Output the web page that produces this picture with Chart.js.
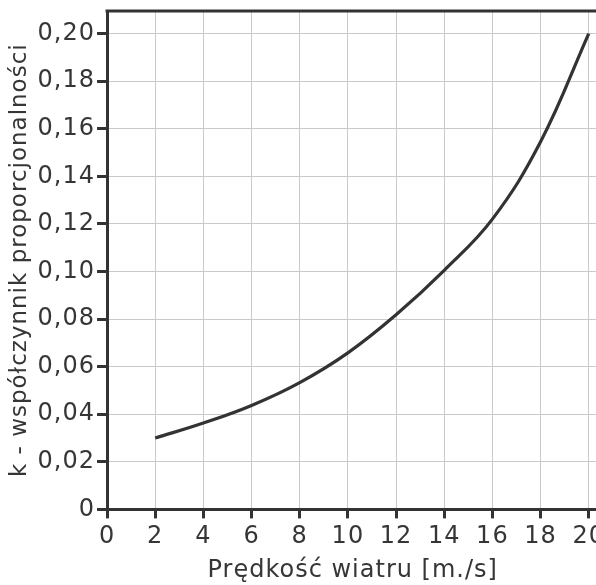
<!DOCTYPE html>
<html>
<head>
<meta charset="utf-8">
<script src="https://cdn.jsdelivr.net/npm/chart.js@4"></script>
<style>
  html, body { margin: 0; padding: 0; background: #fff; overflow: hidden; }
  #wrap { width: 596px; height: 585px; overflow: hidden; }
</style>
</head>
<body>
<div id="wrap"><canvas id="chart" width="609" height="585"></canvas></div>
<script>
// wind speed [m/s] and proportionality factor k
const windSpeed = [2, 4, 6, 8, 10, 12, 14, 16, 18, 20];
const kValues = [0.030, 0.0363, 0.0437, 0.0533, 0.0658, 0.0818, 0.1005, 0.1220, 0.1545, 0.200];

const xTitle = 'Prędkość wiatru [m./s]';
const yTitle = 'k - współczynnik proporcjonalności';

const dark = '#333333';
const gridColor = '#c9c9c9';
const textColor = '#363636';
const fontFamily = 'DejaVu Sans';

// the figure uses wide lettering, so space the letters a bit
const wideText = {
    id: 'wideText',
    afterInit(chart) { chart.ctx.letterSpacing = '1px'; },
    beforeUpdate(chart) { chart.ctx.letterSpacing = '1px'; },
    beforeDraw(chart) { chart.ctx.letterSpacing = '1px'; }
};

// top frame line of the plot
const topBorder = {
    id: 'topBorder',
    afterDraw(chart) {
        const ctx = chart.ctx;
        const area = chart.chartArea;
        ctx.save();
        ctx.strokeStyle = dark;
        ctx.lineWidth = 3;
        ctx.beginPath();
        ctx.moveTo(area.left - 1.5, area.top);
        ctx.lineTo(area.right + 2, area.top);
        ctx.stroke();
        ctx.restore();
    }
};

function formatK(v) {
    if (v === 0) return '0';
    return v.toFixed(2).replace('.', ',');
}

new Chart(document.getElementById('chart').getContext('2d'), {
    type: 'line',
    data: {
        datasets: [{
            data: windSpeed.map((x, i) => ({x: x, y: kValues[i]})),
            borderColor: dark,
            borderWidth: 3.2,
            pointRadius: 0,
            tension: 0.4,
            fill: false
        }]
    },
    options: {
        responsive: false,
        animation: false,
        layout: {padding: {top: 3, left: 6, right: 0, bottom: 0}},
        plugins: {legend: {display: false}, tooltip: {enabled: false}},
        scales: {
            x: {
                type: 'linear',
                min: 0,
                max: 20.4,
                grid: {color: gridColor, lineWidth: 1, tickColor: dark, tickWidth: 3, tickLength: 9},
                border: {color: dark, width: 3},
                ticks: {
                    stepSize: 2,
                    includeBounds: false,
                    maxRotation: 0,
                    color: textColor,
                    padding: 4,
                    font: {family: fontFamily, size: 24}
                },
                title: {
                    display: true,
                    text: xTitle,
                    color: textColor,
                    padding: {top: 1, bottom: 0},
                    font: {family: fontFamily, size: 24}
                }
            },
            y: {
                min: 0,
                max: 0.2095,
                grid: {color: gridColor, lineWidth: 1, tickColor: dark, tickWidth: 3, tickLength: 10},
                border: {color: dark, width: 3},
                ticks: {
                    stepSize: 0.02,
                    includeBounds: false,
                    color: textColor,
                    padding: 2,
                    font: {family: fontFamily, size: 24, lineHeight: 0.75},
                    callback: v => formatK(v)
                },
                title: {
                    display: true,
                    text: yTitle,
                    color: textColor,
                    padding: {top: 0, bottom: 2},
                    font: {family: fontFamily, size: 23}
                }
            }
        }
    },
    plugins: [wideText, topBorder]
});
</script>
</body>
</html>
